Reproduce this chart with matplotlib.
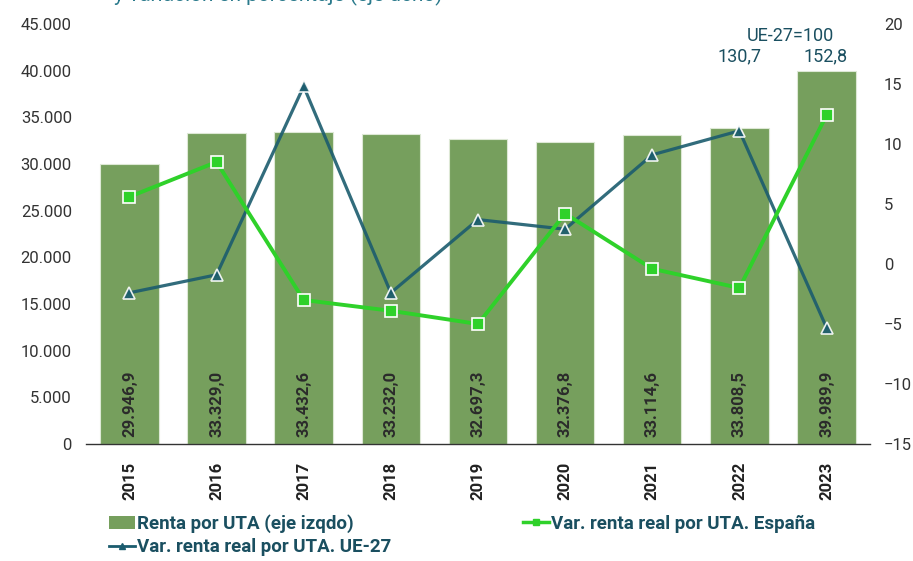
import numpy as np
import matplotlib.pyplot as plt
from matplotlib.lines import Line2D
from matplotlib.patches import Patch

years = ['2015', '2016', '2017', '2018', '2019', '2020', '2021', '2022', '2023']
renta_uta = [29946.9, 33329.0, 33432.6, 33232.0, 32697.3, 32376.8, 33114.6, 33808.5, 39989.9]
renta_labels = ['29.946,9', '33.329,0', '33.432,6', '33.232,0', '32.697,3',
                '32.376,8', '33.114,6', '33.808,5', '39.989,9']
var_espana = [5.6, 8.5, -3.0, -3.9, -5.0, 4.2, -0.4, -2.0, 12.4]
var_ue27 = [-2.4, -0.9, 14.8, -2.4, 3.7, 2.9, 9.1, 11.1, -5.3]
indice_ue = {'2022': '130,7', '2023': '152,8'}

c_bar = '#769f5d'
c_esp = '#2fd12a'
c_ue = '#1b5c6e'
c_txt = '#1a4f60'

plt.rcParams['font.family'] = ['Roboto', 'DejaVu Sans']

fig = plt.figure(figsize=(9.13, 5.61), dpi=100)
ax = fig.add_axes([0.094, 0.2086, 0.859, 0.7486])
ax2 = ax.twinx()

x = np.arange(len(years))
ax.bar(x, renta_uta, width=0.67, color=c_bar, edgecolor='#dde8d5', linewidth=0.8, zorder=2)
for xi, lab in zip(x, renta_labels):
    ax.text(xi, 800, lab, rotation=90, ha='center', va='bottom', fontsize=12,
            fontweight='bold', color='#2b2b2b', zorder=3)

ax.set_xlim(-0.5, len(years) - 0.5)
ax.set_ylim(0, 45000)
ax.set_yticks(np.arange(0, 45001, 5000))
ax.set_yticklabels([f'{v:,}'.replace(',', '.') for v in range(0, 45001, 5000)],
                   fontsize=12, color='#333333')
ax.set_xticks(x)
ax.set_xticklabels(years, rotation=90, fontsize=12, fontweight='bold', color='#222222')
ax.tick_params(axis='both', length=0, pad=10)
ax.tick_params(axis='x', pad=13)

ax2.plot(x, var_ue27, color=c_ue, lw=2.3, marker='^', ms=9, mfc=c_ue, mec='white',
         mew=1.2, zorder=4, alpha=0.9)
ax2.plot(x, var_espana, color=c_esp, lw=2.8, marker='s', ms=9, mfc=c_esp, mec='white',
         mew=1.2, zorder=5)
ax2.set_ylim(-15, 20)
ax2.set_yticks(np.arange(-15, 21, 5))
ax2.tick_params(axis='y', length=0, pad=10, labelsize=12, labelcolor='#333333')

for a in (ax, ax2):
    for s in a.spines.values():
        s.set_visible(False)
ax.spines['bottom'].set_visible(True)
ax.spines['bottom'].set_color('#333333')
ax.spines['bottom'].set_linewidth(1)

# indices UE-27=100
for yr, val in indice_ue.items():
    i = years.index(yr)
    xoff = 0.0 if yr == '2022' else -0.01
    ax.text(i + xoff, 41500, val, ha='center', va='center', fontsize=13, color=c_txt,
            clip_on=False)
ax.text(7.58, 43700, 'UE-27=100', ha='center', va='center', fontsize=13, color=c_txt,
        clip_on=False)

fig.text(0.125, 0.997, 'y variación en porcentaje (eje dcho)', fontsize=15,
         color='#2a7a8c', va='baseline')

handles = [Patch(facecolor=c_bar, edgecolor='none'),
           Line2D([], [], color=c_ue, lw=2, marker='^', ms=5, mec=c_ue),
           Line2D([], [], color=c_esp, lw=2.5, marker='s', ms=5, mec=c_esp)]
labels = ['Renta por UTA (eje izqdo)', 'Var. renta real por UTA. UE-27',
          'Var. renta real por UTA. España']
leg = fig.legend(handles, labels, loc='lower left', bbox_to_anchor=(0.107, -0.012), ncol=2,
                 frameon=False, handlelength=1.4, handletextpad=0.1, columnspacing=7.0,
                 labelspacing=0.3, borderaxespad=0.2,
                 prop={'weight': 'bold', 'size': 13.5})
for t in leg.get_texts():
    t.set_color(c_txt)

fig.savefig('out.png', dpi=100)
